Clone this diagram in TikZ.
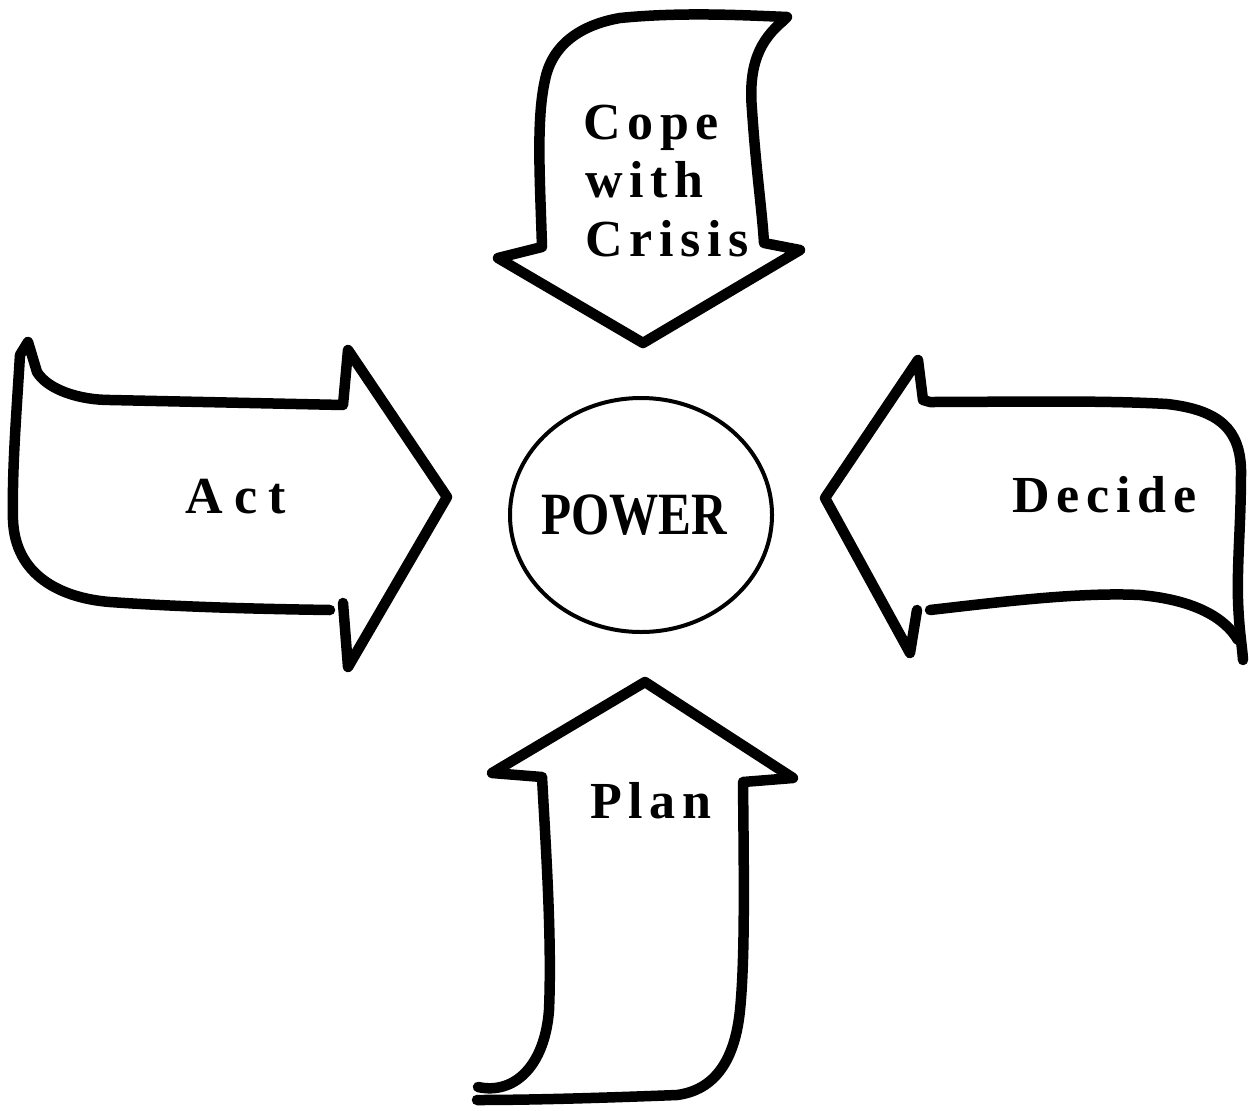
\documentclass[tikz,border=0pt]{standalone}
\usepackage{fontspec}
\usetikzlibrary{shapes.geometric}
\setmainfont{Liberation Serif}
\newfontfamily\spaced[LetterSpace=13]{Liberation Serif}
\newfontfamily\widespaced[LetterSpace=22]{Liberation Serif}
\begin{document}
\begin{tikzpicture}[x=1pt,y=-1pt,
  blockarrow/.style={line width=10.5pt,line join=round,line cap=round},
  label/.style={inner sep=0pt,font=\spaced\bfseries\fontsize{52}{60}\selectfont},
  hub/.style={draw,ellipse,line width=4pt,minimum width=262pt,minimum height=234pt,inner sep=0pt}]
\useasboundingbox (0,0) rectangle (1249,1110);

% downward arrow: Cope with Crisis
\draw[blockarrow] (498,258) -- (542,247)
  .. controls (540,180) and (536,120) .. (545,80)
  .. controls (552,45) and (580,25) .. (620,18)
  .. controls (680,12) and (740,15) .. (787,17)
  -- (783,21)
  .. controls (760,40) and (748,65) .. (752,110)
  .. controls (756,170) and (762,210) .. (764,243)
  -- (800,250) -- (643,343) -- cycle;

% rightward arrow: Act
\draw[blockarrow] (343,603) -- (348,667) -- (447,497) -- (348,350) -- (343,405)
  -- (110,400)
  .. controls (80,400) and (48,390) .. (37,372)
  -- (28,342) -- (20,355)
  .. controls (16,420) and (12,470) .. (13,520)
  .. controls (15,575) and (60,598) .. (110,602)
  .. controls (180,607) and (260,609) .. (330,610);

% leftward arrow: Decide
\draw[blockarrow] (917,610) -- (910,653) -- (825,498) -- (918,360) -- (923,400) -- (930,402)
  .. controls (1000,402) and (1100,400) .. (1167,404)
  .. controls (1220,410) and (1240,430) .. (1241,470)
  .. controls (1241,525) and (1237,560) .. (1238,600)
  .. controls (1239,630) and (1242,645) .. (1243,660);
\draw[blockarrow] (930,610)
  .. controls (1000,602) and (1080,592) .. (1140,595)
  .. controls (1195,600) and (1225,618) .. (1238,640);

% upward arrow: Plan
\draw[blockarrow] (478,1087)
  .. controls (515,1095) and (545,1065) .. (549,1010)
  .. controls (552,940) and (546,850) .. (542,777)
  -- (492,773) -- (645,682) -- (793,778) -- (743,782)
  .. controls (744,880) and (745,960) .. (740,1010)
  .. controls (735,1060) and (715,1090) .. (677,1095)
  .. controls (600,1098) and (530,1100) .. (477,1100);

% centre
\node[hub] (power) at (641,515) {};
\node[inner sep=0pt,anchor=base,font=\bfseries\fontsize{60}{60}\selectfont,xscale=0.82] (powertext) at (634,534) {POWER};

% labels
\node[label,anchor=base west] (cope) at (583,140) {Cope};
\node[label,anchor=base west] (with) at (585,197) {with};
\node[label,anchor=base west] (crisis) at (585,256) {Crisis};
\node[label,anchor=base west,font=\widespaced\bfseries\fontsize{52}{60}\selectfont] (act) at (185,513) {Act};
\node[label,anchor=base west] (decide) at (1012,512) {Decide};
\node[label,anchor=base west] (plan) at (590,818) {Plan};
\end{tikzpicture}
\end{document}
